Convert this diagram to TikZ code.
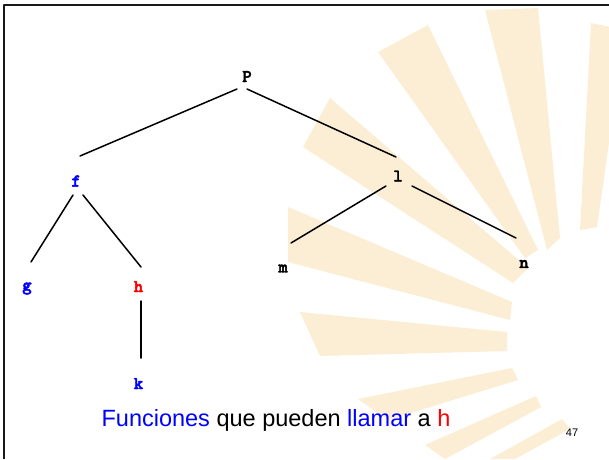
\documentclass[tikz,border=0pt]{standalone}
\usepackage{fontspec}
\setmainfont{Liberation Sans}
\newfontfamily\codigo{lmmonolt10-bold}[Extension=.otf, FakeBold=2.5]
\definecolor{rayo}{RGB}{252,238,212}
\definecolor{azul}{RGB}{0,0,255}
\definecolor{rojo}{RGB}{255,0,0}
\begin{document}
\begin{tikzpicture}[x=1pt, y=-1pt, line join=round, line cap=round,
		letra/.style={font=\codigo\fontsize{18}{18}\selectfont, inner sep=0pt},
		rama/.style={line width=1.5pt}]
		\useasboundingbox (0,0) rectangle (609,459);
		\fill[white] (0,0) rectangle (609,459);
		% rayos del fondo
		\fill[rayo] (591,23) -- (625,30) -- (597,227) -- (580,230) -- cycle;
		\fill[rayo] (485,10) -- (538,8) -- (560,238) -- (547,250) -- cycle;
		\fill[rayo] (378,52) -- (428,25) -- (538,250) -- (525,258) -- cycle;
		\fill[rayo] (303,147) -- (330,98) -- (528,268) -- (513,283) -- cycle;
		\fill[rayo] (288,207) -- (512,302) -- (510,320) -- (288,262) -- cycle;
		\fill[rayo] (300,312) -- (507,332) -- (507,351) -- (320,356) -- cycle;
		\fill[rayo] (358,399) -- (512,368) -- (518,380) -- (388,420) -- cycle;
		\fill[rayo] (425,445) -- (536,396) -- (541,407) -- (445,459) -- cycle;
		\fill[rayo] (490,459) -- (562,419) -- (570,429) -- (515,459) -- cycle;
		% marco
		\draw[line width=2.5pt, line cap=butt, black!90] (609,5) -- (4,5) -- (4,459);
		% arbol de llamadas
		\node[letra] (P) at (247,76.5) {P};
		\node[letra, azul] (f) at (76,181) {f};
		\node[letra] (l) at (398,176) {l};
		\node[letra, azul] (g) at (27,288.5) {g};
		\node[letra, rojo] (h) at (138.5,286.5) {h};
		\node[letra, azul] (k) at (138.5,383.5) {k};
		\node[letra] (m) at (283,268.5) {m};
		\node[letra] (n) at (524,264) {n};
		\draw[rama] ([shift={(-10,12.5)}]P.center) -- ([shift={(4,-25)}]f.center);
		\draw[rama] ([shift={(0,12.5)}]P.center) -- ([shift={(-2,-19)}]l.center);
		\draw[rama] ([shift={(-3,14)}]f.center) -- ([shift={(4,-26.5)}]g.center);
		\draw[rama] ([shift={(7,14)}]f.center) -- ([shift={(2.5,-19.5)}]h.center);
		\draw[rama] ([shift={(2.5,14.5)}]h.center) -- ([shift={(2.5,-25.5)}]k.center);
		\draw[rama] ([shift={(-12,10)}]l.center) -- ([shift={(8,-25.5)}]m.center);
		\draw[rama] ([shift={(14,10)}]l.center) -- ([shift={(-8,-26)}]n.center);
		% texto
		\node[anchor=base, font=\fontsize{23.5}{24}\selectfont] (texto) at (276,426)
		{\textcolor{azul}{Funciones} que pueden \textcolor{azul}{llamar} a \textcolor{rojo}{h}};
		\node[anchor=base, font=\fontsize{11}{11}\selectfont] (pag) at (572,436) {47};
\end{tikzpicture}
\end{document}
